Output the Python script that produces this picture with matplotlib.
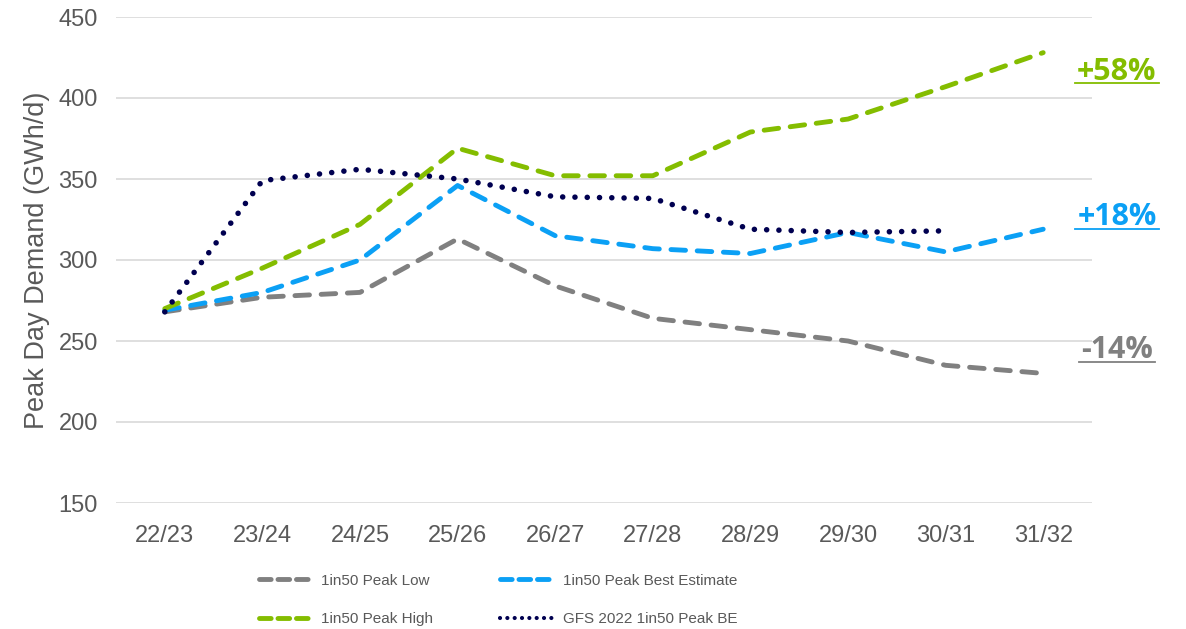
import matplotlib
matplotlib.use("Agg")
import matplotlib.pyplot as plt
from matplotlib.lines import Line2D

# Peak day demand scenarios (GWh/d)
years = ["22/23", "23/24", "24/25", "25/26", "26/27", "27/28", "28/29", "29/30", "30/31", "31/32"]
peak_low = [268, 277, 280, 313, 284, 264, 257, 250, 235, 230]
peak_best = [269, 280, 300, 346, 315, 307, 304, 317, 305, 319]
peak_high = [270, 295, 322, 369, 352, 352, 379, 387, 407, 428]
gfs_2022 = [268, 349, 356, 350, 339, 338, 319, 317, 318]

changes = ["+58%", "+18%", "-14%"]
change_colors = ["#84BD00", "#0BA0F5", "#808080"]

plt.rcParams['font.family'] = ['Liberation Sans', 'DejaVu Sans']

W, H = 1186, 629
fig = plt.figure(figsize=(W / 100, H / 100), dpi=100)
ax = fig.add_axes([116 / W, 1 - 503 / H, (1092 - 116) / W, (503 - 17) / H])

x = list(range(len(years)))
lw = 3.5
dash = (3, 2.4)
ax.plot(x, peak_low, color="#808080", lw=lw, dashes=dash, dash_capstyle="round", zorder=3)
ax.plot(x, peak_best, color="#0BA0F5", lw=lw, dashes=dash, dash_capstyle="round", zorder=3)
ax.plot(x, peak_high, color="#84BD00", lw=lw, dashes=dash, dash_capstyle="round", zorder=3)
ax.plot(x[:len(gfs_2022)], gfs_2022, color="#000050", lw=4, dashes=(0.01, 2.2),
        dash_capstyle="round", zorder=4)

ax.set_xlim(-0.5, 9.5)
ax.set_ylim(150, 450)
ax.set_yticks(range(150, 451, 50))
ax.set_xticks(x)
ax.set_xticklabels(years)
ax.grid(axis="y", color="#D9D9D9", lw=1.2)
ax.set_axisbelow(True)
for s in ax.spines.values():
    s.set_visible(False)
ax.tick_params(length=0, labelsize=17, colors="#595959")
ax.tick_params(axis="x", pad=16)
ax.tick_params(axis="y", pad=13)
ax.set_ylabel("Peak Day Demand (GWh/d)", fontsize=19.5, color="#595959", labelpad=6)

# legend with shorter dash pattern in the handles
def handle(col, d, w=lw):
    return Line2D([], [], color=col, lw=w, dashes=d, dash_capstyle="round")

hs = [handle("#808080", (2.4, 1.4)), handle("#84BD00", (2.4, 1.4)),
      handle("#0BA0F5", (2.4, 1.4)), handle("#000050", (0.01, 1.75), 3)]
ls = ["1in50 Peak Low", "1in50 Peak High", "1in50 Peak Best Estimate", "GFS 2022 1in50 Peak BE"]
leg = fig.legend(hs, ls, ncol=2, frameon=False,
                 loc="center", bbox_to_anchor=(498 / W, 1 - 600 / H), fontsize=11,
                 handlelength=3.5, columnspacing=4.4, labelspacing=1.6, handletextpad=0.6)
for t in leg.get_texts():
    t.set_color("#595959")

# percent change labels with underline
ys = [72, 217, 350]
ul = [(1075, 1159, 83), (1075, 1159, 229), (1079, 1155, 362)]
for txt, col, yy, (x0, x1, yu) in zip(changes, change_colors, ys, ul):
    fig.text(1117 / W, 1 - yy / H, txt, color=col, fontsize=22, fontweight="bold",
             family=["Open Sans", "DejaVu Sans"], ha="center", va="center")
    fig.add_artist(Line2D([x0 / W, x1 / W], [1 - yu / H, 1 - yu / H], color=col, lw=1.3))

fig.savefig("out.png", dpi=100)
